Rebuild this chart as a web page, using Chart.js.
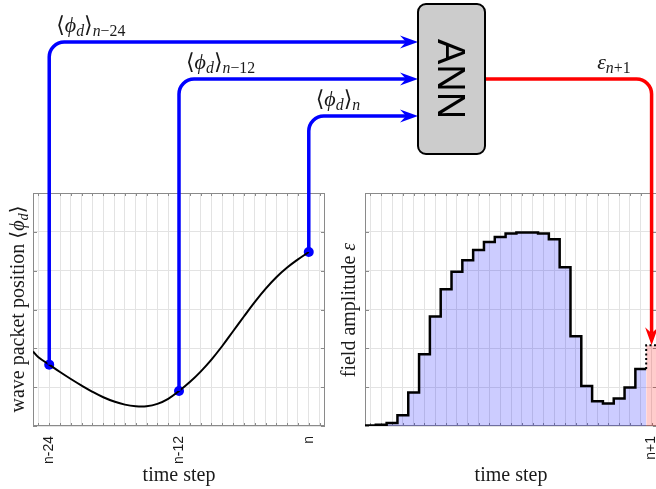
<!DOCTYPE html>
<html>
<head>
<meta charset="utf-8">
<script src="https://cdn.jsdelivr.net/npm/chart.js@4.4.0/dist/chart.umd.min.js"></script>
<style>
  html, body { margin: 0; padding: 0; background: #fff; }
  #wrap { position: relative; width: 656px; height: 489px; overflow: hidden; }
  #wrap canvas { position: absolute; left: 0; top: 0; }
</style>
</head>
<body>
<div id="wrap">
  <canvas id="posChart" width="656" height="489"></canvas>
  <canvas id="fieldChart" width="700" height="489"></canvas>
</div>
<script>
// time steps are counted relative to n (n = 0)
const posSteps  = [-25.5, -25, -24, -23, -22, -21, -20, -19, -18, -17, -16, -15, -14, -13,
                   -12, -11, -10, -9, -8, -7, -6, -5, -4, -3, -2, -1, 0];
const posValues = [1.92, 1.77, 1.58, 1.39, 1.21, 1.04, 0.88, 0.74, 0.63, 0.55, 0.51, 0.51, 0.57, 0.70,
                   0.90, 1.13, 1.40, 1.71, 2.06, 2.44, 2.82, 3.19, 3.53, 3.83, 4.08, 4.29, 4.48];

// steps fed into the network, and their tick labels
const inputSteps  = [-24, -12, 0];
const inputLabels = ["n-24", "n-12", "n"];

// field amplitude per time step (n-25 .. n)
const fieldSteps  = [-25, -24, -23, -22, -21, -20, -19, -18, -17, -16, -15, -14, -13,
                     -12, -11, -10, -9, -8, -7, -6, -5, -4, -3, -2, -1, 0];
const fieldValues = [0.01, 0.03, 0.08, 0.28, 0.86, 1.85, 2.82, 3.52, 3.97, 4.27, 4.53, 4.74, 4.87,
                     4.96, 4.98, 4.98, 4.96, 4.81, 4.09, 2.31, 1.03, 0.64, 0.58, 0.71, 0.99, 1.47];

// predicted amplitude
const predSteps  = [1];
const predValues = [2.08];
const predLabels = ["n+1"];

const SERIF = '"Liberation Serif", "DejaVu Serif", serif';
const SANS = '"Liberation Sans", Arial, sans-serif';
const INK = "#1a1a1a";
const GRID = "#e3e3e3";
const FRAME = "#8a8a8a";
const BLUE = "#0000ff";
const RED = "#ff0000";

const X_MIN = -25.5, X_MAX = 1.5;
const gridSteps = [];
for (let s = Math.ceil(X_MIN); s <= Math.floor(X_MAX); s++) gridSteps.push(s);

// ANN box
const BOX = { x: 418, y: 4, w: 67, h: 150, r: 8 };
const ROW_GAP = 37;

function xScale(labelSteps, labelTexts) {
  return {
    type: "linear",
    min: X_MIN,
    max: X_MAX,
    afterBuildTicks: (s) => { s.ticks = gridSteps.map((v) => ({ value: v })); },
    afterFit: (s) => { s.height = 63; },
    grid: { color: GRID, drawTicks: false },
    border: { display: false },
    ticks: {
      autoSkip: false,
      minRotation: 90,
      maxRotation: 90,
      padding: 10,
      color: INK,
      font: { family: SANS, size: 14 },
      callback: (v) => {
        const i = labelSteps.indexOf(v);
        return i < 0 ? "" : labelTexts[i];
      },
    },
    title: {
      display: true,
      text: "time step",
      color: INK,
      font: { family: SERIF, size: 20 },
      padding: { top: 0, bottom: 1 },
    },
  };
}

function yScale() {
  return {
    min: 0,
    max: 6,
    afterFit: (s) => { s.width = 0; },
    grid: { color: GRID, drawTicks: false },
    border: { display: false },
    ticks: { display: false, stepSize: 1 },
  };
}

// box with inner tick marks, like the original axes
const framePlugin = {
  id: "frame",
  beforeDatasetsDraw(chart) {
    const { ctx, chartArea: a, scales: { x, y } } = chart;
    ctx.save();
    ctx.strokeStyle = FRAME;
    ctx.lineWidth = 1;
    ctx.strokeRect(a.left + 0.5, a.top + 0.5, a.width - 1, a.height - 1);
    ctx.beginPath();
    x.ticks.forEach((t) => {
      const px = Math.round(x.getPixelForValue(t.value)) + 0.5;
      ctx.moveTo(px, a.bottom); ctx.lineTo(px, a.bottom - 3);
      ctx.moveTo(px, a.top); ctx.lineTo(px, a.top + 3);
    });
    y.ticks.forEach((t) => {
      const py = Math.round(y.getPixelForValue(t.value)) + 0.5;
      ctx.moveTo(a.left, py); ctx.lineTo(a.left + 4, py);
      ctx.moveTo(a.right, py); ctx.lineTo(a.right - 4, py);
    });
    ctx.stroke();
    ctx.restore();
  },
};

// text with italic / subscript pieces
function mathWidth(ctx, parts, size) {
  let w = 0;
  for (const p of parts) {
    ctx.font = `${p.it ? "italic " : ""}${p.sub ? size * 0.72 : size}px ${SERIF}`;
    w += ctx.measureText(p.t).width;
  }
  return w;
}

function drawMath(ctx, x, y, parts, size) {
  let cx = x;
  for (const p of parts) {
    ctx.font = `${p.it ? "italic " : ""}${p.sub ? size * 0.72 : size}px ${SERIF}`;
    ctx.fillText(p.t, cx, y + (p.sub ? size * 0.2 : 0));
    cx += ctx.measureText(p.t).width;
  }
}

function drawRotatedTitle(ctx, cx, cy, parts, size) {
  ctx.save();
  ctx.translate(cx, cy);
  ctx.rotate(-Math.PI / 2);
  ctx.fillStyle = INK;
  ctx.textBaseline = "alphabetic";
  drawMath(ctx, -mathWidth(ctx, parts, size) / 2, 0, parts, size);
  ctx.restore();
}

function arrowHead(ctx, tipX, tipY, dir, color) {
  // dir: "right" or "down"
  const L = 18, W = 6.5, N = 12;
  ctx.save();
  ctx.translate(tipX, tipY);
  if (dir === "down") ctx.rotate(Math.PI / 2);
  ctx.beginPath();
  ctx.moveTo(0, 0);
  ctx.lineTo(-L, -W);
  ctx.lineTo(-N, 0);
  ctx.lineTo(-L, W);
  ctx.closePath();
  ctx.fillStyle = color;
  ctx.fill();
  ctx.restore();
}

function rowY(i) {
  return BOX.y + BOX.h / 2 + (i - 1) * ROW_GAP;
}

const inputsPlugin = {
  id: "inputs",
  afterDraw(chart) {
    const { ctx } = chart;
    const dots = chart.getDatasetMeta(1).data;
    const r = 15;
    ctx.save();
    dots.forEach((pt, i) => {
      const ry = rowY(i);
      ctx.beginPath();
      ctx.moveTo(pt.x, pt.y);
      ctx.lineTo(pt.x, ry + r);
      ctx.arcTo(pt.x, ry, pt.x + r, ry, r);
      ctx.lineTo(BOX.x - 12, ry);
      ctx.strokeStyle = BLUE;
      ctx.lineWidth = 3.5;
      ctx.stroke();
      arrowHead(ctx, BOX.x, ry, "right", BLUE);

      const sub = inputLabels[i].replace("-", "\u2212");
      const parts = [
        { t: "\u27E8" }, { t: "\u03D5", it: true }, { t: "d", it: true, sub: true }, { t: "\u27E9" },
        { t: "n", it: true, sub: true },
      ];
      if (sub.length > 1) parts.push({ t: sub.slice(1), sub: true });
      ctx.fillStyle = INK;
      drawMath(ctx, pt.x + 7, ry - 10, parts, 22);
    });
    ctx.restore();

    drawRotatedTitle(ctx, 24, 309, [
      { t: "wave packet position " }, { t: "\u27E8" }, { t: "\u03D5", it: true },
      { t: "d", it: true, sub: true }, { t: "\u27E9" },
    ], 20);
  },
};

const annPlugin = {
  id: "ann",
  afterDraw(chart) {
    const { ctx, scales: { x, y } } = chart;
    const ry = rowY(1);
    const xr = x.getPixelForValue(predSteps[0]);
    const tipY = y.getPixelForValue(predValues[0]);
    const r = 15;

    ctx.save();
    ctx.beginPath();
    ctx.moveTo(BOX.x + BOX.w, ry);
    ctx.lineTo(xr - r, ry);
    ctx.arcTo(xr, ry, xr, ry + r, r);
    ctx.lineTo(xr, tipY - 12);
    ctx.strokeStyle = RED;
    ctx.lineWidth = 3.5;
    ctx.stroke();
    arrowHead(ctx, xr, tipY, "down", RED);

    ctx.beginPath();
    ctx.roundRect(BOX.x, BOX.y, BOX.w, BOX.h, BOX.r);
    ctx.fillStyle = "#cccccc";
    ctx.fill();
    ctx.strokeStyle = "#000";
    ctx.lineWidth = 2;
    ctx.stroke();

    ctx.translate(BOX.x + BOX.w / 2, BOX.y + BOX.h / 2);
    ctx.rotate(Math.PI / 2);
    ctx.font = `38px ${SANS}`;
    ctx.textAlign = "center";
    ctx.textBaseline = "alphabetic";
    ctx.fillStyle = "#000";
    ctx.fillText("ANN", 0, 13.5);
    ctx.restore();

    ctx.save();
    ctx.fillStyle = INK;
    const parts = [{ t: "\u03B5", it: true }, { t: "n", it: true, sub: true }, { t: "+1", sub: true }];
    const w = mathWidth(ctx, parts, 22);
    drawMath(ctx, xr - 21 - w, ry - 10, parts, 22);
    ctx.restore();

    drawRotatedTitle(ctx, 355, 310, [{ t: "field amplitude " }, { t: "\u03B5", it: true }], 20);
  },
};

const base = {
  responsive: false,
  animation: false,
  events: [],
  plugins: { legend: { display: false }, tooltip: { enabled: false } },
};

const posChart = new Chart(document.getElementById("posChart"), {
  type: "line",
  data: {
    datasets: [
      {
        data: posSteps.map((s, i) => ({ x: s, y: posValues[i] })),
        borderColor: "#000",
        borderWidth: 2,
        pointRadius: 0,
        tension: 0.4,
      },
      {
        data: inputSteps.map((s) => ({ x: s, y: posValues[posSteps.indexOf(s)] })),
        showLine: false,
        pointRadius: 5,
        pointBackgroundColor: BLUE,
        pointBorderColor: BLUE,
        pointBorderWidth: 0,
      },
    ],
  },
  options: {
    ...base,
    layout: { padding: { left: 33, top: 193, right: 656 - 325, bottom: 0 } },
    scales: { x: xScale(inputSteps, inputLabels), y: yScale() },
  },
  plugins: [framePlugin, inputsPlugin],
});

// step outline: one point at each bar's left edge, plus the closing edge
const fieldEdges = fieldSteps.map((s, i) => ({ x: s - 0.5, y: fieldValues[i] }));
fieldEdges.push({ x: fieldSteps[fieldSteps.length - 1] + 0.5, y: fieldValues[fieldValues.length - 1] });

const predEdges = [{ x: predSteps[0] - 0.5, y: fieldValues[fieldValues.length - 1] }];
predSteps.forEach((s, i) => {
  predEdges.push({ x: s - 0.5, y: predValues[i] }, { x: s + 0.5, y: predValues[i] });
});

const fieldChart = new Chart(document.getElementById("fieldChart"), {
  type: "line",
  data: {
    datasets: [
      {
        data: fieldEdges,
        stepped: "before",
        borderColor: "#000",
        borderWidth: 2.5,
        pointRadius: 0,
        fill: "origin",
        backgroundColor: "rgba(0,0,255,0.2)",
      },
      {
        data: predEdges,
        stepped: "before",
        borderColor: "#000",
        borderWidth: 2,
        borderDash: [2, 2.5],
        pointRadius: 0,
        fill: "origin",
        backgroundColor: "rgba(255,0,0,0.2)",
      },
    ],
  },
  options: {
    ...base,
    layout: { padding: { left: 365, top: 193, right: 700 - 657, bottom: 0 } },
    scales: { x: xScale(predSteps, predLabels), y: yScale() },
  },
  plugins: [framePlugin, annPlugin],
});
</script>
</body>
</html>
